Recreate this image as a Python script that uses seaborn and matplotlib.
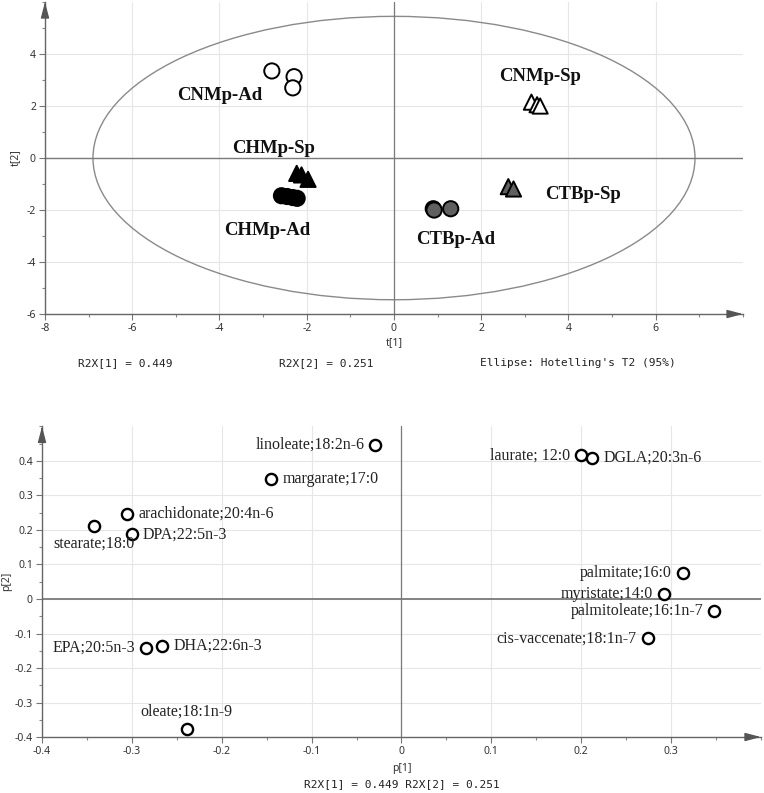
import pandas as pd
import seaborn as sns
import matplotlib.pyplot as plt
from matplotlib.patches import Ellipse
from matplotlib.ticker import MultipleLocator, FuncFormatter

# ---- score plot data (t[1] / t[2]) ----
groups = (["CNMp-Ad"] * 3 + ["CHMp-Sp"] * 3 + ["CHMp-Ad"] * 4 +
          ["CTBp-Ad"] * 3 + ["CTBp-Sp"] * 2 + ["CNMp-Sp"] * 3)
t1 = [-2.80, -2.29, -2.32, -2.23, -2.12, -1.97, -2.58, -2.45, -2.32, -2.22,
      0.90, 0.92, 1.30, 2.62, 2.74, 3.15, 3.28, 3.35]
t2 = [3.35, 3.13, 2.70, -0.59, -0.65, -0.82, -1.45, -1.48, -1.52, -1.55,
      -1.95, -2.00, -1.95, -1.10, -1.19, 2.15, 2.05, 2.00]

group_names = ["CNMp-Ad", "CNMp-Sp", "CHMp-Sp", "CHMp-Ad", "CTBp-Sp", "CTBp-Ad"]
group_label_x = [-3.99, 3.35, -2.75, -2.91, 4.33, 1.42]
group_label_y = [2.42, 3.12, 0.35, -2.80, -1.42, -3.12]

# Hotelling's T2 ellipse semi-axes
ellipse_a = 6.9
ellipse_b = 5.45

# ---- loading plot data (p[1] / p[2]) ----
variables = ["linoleate;18:2n-6", "laurate; 12:0", "DGLA;20:3n-6", "margarate;17:0",
             "arachidonate;20:4n-6", "stearate;18:0", "DPA;22:5n-3", "palmitate;16:0",
             "myristate;14:0", "palmitoleate;16:1n-7", "cis-vaccenate;18:1n-7",
             "EPA;20:5n-3", "DHA;22:6n-3", "oleate;18:1n-9"]
p1 = [-0.029, 0.1995, 0.212, -0.145, -0.305, -0.342, -0.300, 0.313,
      0.292, 0.348, 0.274, -0.284, -0.266, -0.239]
p2 = [0.446, 0.416, 0.409, 0.347, 0.246, 0.211, 0.187, 0.075,
      0.0145, -0.034, -0.114, -0.141, -0.136, -0.378]
label_side = ["left", "left", "right", "right", "right", "below", "right", "left",
              "left", "left", "left", "left", "right", "above"]

scores = pd.DataFrame({"t1": t1, "t2": t2, "group": groups})
loadings = pd.DataFrame({"p1": p1, "p2": p2, "var": variables})

sns.set_style("white")
plt.rcParams["font.family"] = ["Noto Sans", "DejaVu Sans"]

fig = plt.figure(figsize=(7.64, 7.93), dpi=100)
ax1 = fig.add_axes([0.0589, 0.604, 0.9136, 0.3934])
ax2 = fig.add_axes([0.055, 0.0706, 0.941, 0.3916])

AXC = "#666666"


def style_axes(ax):
    for s in ["top", "right"]:
        ax.spines[s].set_visible(False)
    for s in ["left", "bottom"]:
        ax.spines[s].set_color(AXC)
        ax.spines[s].set_linewidth(1.0)
    ax.tick_params(which="major", direction="out", length=4, width=0.8,
                   color="#777777", labelcolor="#333333", labelsize=7.5, pad=2.5)
    ax.tick_params(which="minor", direction="out", length=2.5, width=0.8, color="#888888")
    ax.tick_params(axis="x", which="both", bottom=True)
    ax.tick_params(axis="y", which="both", left=True)
    ax.grid(True, which="major", color="#e6e6e6", lw=0.8)
    ax.set_axisbelow(True)
    arrow = dict(arrowstyle="-|>,head_length=0.95,head_width=0.25", color="#555555",
                 lw=1.0, shrinkA=0, shrinkB=0, mutation_scale=10)
    ax.annotate("", xy=(1, 0), xycoords="axes fraction", xytext=(0.99, 0),
                arrowprops=arrow, annotation_clip=False)
    ax.annotate("", xy=(0, 1), xycoords="axes fraction", xytext=(0, 0.99),
                arrowprops=arrow, annotation_clip=False)


# ---- top: scores ----
palette = {"CNMp-Ad": "white", "CNMp-Sp": "white", "CHMp-Ad": "black",
           "CHMp-Sp": "black", "CTBp-Ad": "#606060", "CTBp-Sp": "#606060"}
markers = {"CNMp-Ad": "o", "CNMp-Sp": "^", "CHMp-Ad": "o",
           "CHMp-Sp": "^", "CTBp-Ad": "o", "CTBp-Sp": "^"}

ax1.add_patch(Ellipse((0, 0), 2 * ellipse_a, 2 * ellipse_b, fill=False,
                      edgecolor="#8a8a8a", lw=1.0, zorder=1))
ax1.axhline(0, color="#7a7a7a", lw=1.0, zorder=1)
ax1.axvline(0, color="#7a7a7a", lw=0.9, zorder=1)
sns.scatterplot(data=scores, x="t1", y="t2", hue="group", style="group",
                palette=palette, markers=markers, s=120, edgecolor="black",
                linewidth=1.4, legend=False, ax=ax1, zorder=3)
for name, lx, ly in zip(group_names, group_label_x, group_label_y):
    ax1.text(lx, ly, name, ha="center", va="center", fontsize=13.5,
             fontweight="bold", family="Liberation Serif", color="#111111")

ax1.set_xlim(-8, 8)
ax1.set_ylim(-6, 6)
ax1.set_xticks(range(-8, 7, 2))
ax1.set_yticks(range(-6, 5, 2))
ax1.xaxis.set_minor_locator(MultipleLocator(1))
ax1.yaxis.set_minor_locator(MultipleLocator(1))
ax1.xaxis.set_major_formatter(FuncFormatter(lambda v, p: f"{int(round(v))}"))
ax1.yaxis.set_major_formatter(FuncFormatter(lambda v, p: f"{int(round(v))}"))
style_axes(ax1)
ax1.set_xlabel("t[1]", fontsize=7.5, color="#333333", labelpad=2)
ax1.set_ylabel("t[2]", fontsize=7.5, color="#333333", labelpad=4)

mono = dict(fontsize=8, family="DejaVu Sans Mono", color="#222222", va="center", ha="center")
fig.text(125 / 764, 1 - 363 / 793, "R2X[1] = 0.449", **mono)
fig.text(326 / 764, 1 - 363 / 793, "R2X[2] = 0.251", **mono)
fig.text(578 / 764, 1 - 363 / 793, "Ellipse: Hotelling's T2 (95%)", **mono)

# ---- bottom: loadings ----
ax2.axhline(0, color="#7a7a7a", lw=1.3, zorder=1)
ax2.axvline(0, color="#7a7a7a", lw=0.9, zorder=1)
sns.scatterplot(data=loadings, x="p1", y="p2", color="white", edgecolor="black",
                s=65, linewidth=1.7, legend=False, ax=ax2, zorder=3)

offsets = {"left": ((-8, 0), "right", "center"),
           "right": ((8, 0), "left", "center"),
           "below": ((0, -12.5), "center", "center"),
           "above": ((0, 13), "center", "center")}
for name, x, y, side in zip(variables, p1, p2, label_side):
    off, ha, va = offsets[side]
    ax2.annotate(name, (x, y), xytext=off, textcoords="offset points", ha=ha, va=va,
                 fontsize=11.5, family="Liberation Serif", color="#222222")

ax2.set_xlim(-0.4, 0.4)
ax2.set_ylim(-0.4, 0.5)
ax2.set_xticks([-0.4, -0.3, -0.2, -0.1, 0, 0.1, 0.2, 0.3])
ax2.set_yticks([-0.4, -0.3, -0.2, -0.1, 0, 0.1, 0.2, 0.3, 0.4])
ax2.xaxis.set_minor_locator(MultipleLocator(0.05))
ax2.yaxis.set_minor_locator(MultipleLocator(0.05))
fmt = FuncFormatter(lambda v, p: f"{round(v, 2) + 0.0:g}")
ax2.xaxis.set_major_formatter(fmt)
ax2.yaxis.set_major_formatter(fmt)
style_axes(ax2)
ax2.set_xlabel("p[1]", fontsize=7.5, color="#333333", labelpad=4)
ax2.set_ylabel("p[2]", fontsize=7.5, color="#333333", labelpad=2)
fig.text(402 / 764, 1 - 784 / 793, "R2X[1] = 0.449 R2X[2] = 0.251", **mono)

fig.savefig("out.png", dpi=100)
